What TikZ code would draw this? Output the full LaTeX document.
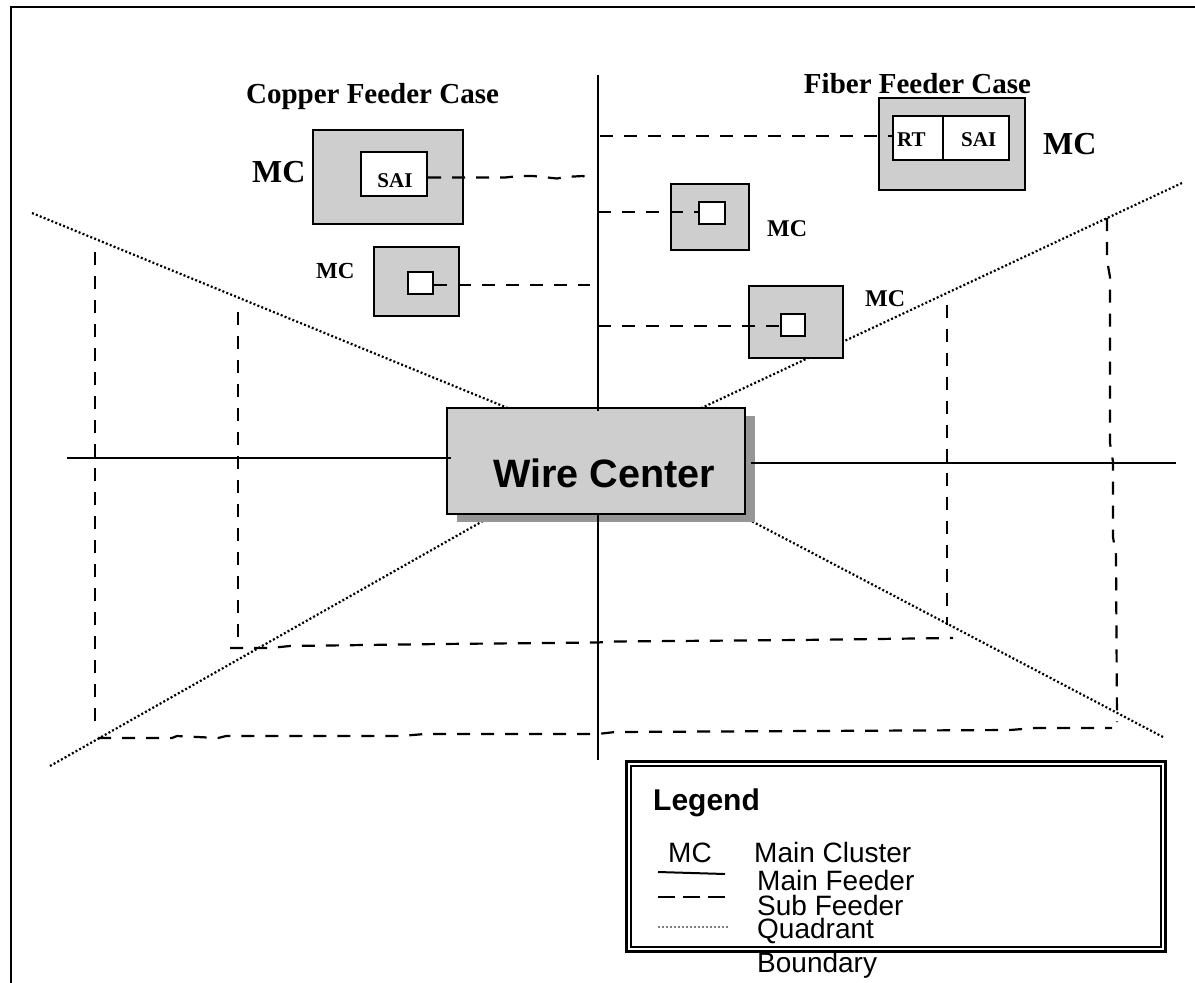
\documentclass[tikz,border=0pt]{standalone}
\usepackage{fontspec}
\setmainfont{Liberation Serif}
\setsansfont{Liberation Sans}
\usetikzlibrary{shadows}
\definecolor{mcgray}{RGB}{206,206,206}
\definecolor{shadowgray}{RGB}{150,150,150}
\begin{document}
\begin{tikzpicture}[x=1pt,y=-1pt,
  frame/.style={line width=2pt},
  mainfeed/.style={line width=2pt},
  subfeed/.style={line width=2.2pt, dash pattern=on 13pt off 11pt},
  quad/.style={line width=2.2pt, dash pattern=on 2pt off 2.2pt},
  mcbox/.style={draw, line width=2pt, fill=mcgray, inner sep=0pt},
  inbox/.style={draw, line width=2pt, fill=white, inner sep=0pt},
  seriflbl/.style={font=\fontsize{#1}{#1}\selectfont\bfseries, inner sep=0pt},
  sanslbl/.style={font=\fontsize{#1}{#1}\selectfont\sffamily, inner sep=0pt},
  sansbold/.style={font=\fontsize{#1}{#1}\selectfont\sffamily\bfseries, inner sep=0pt}]
\useasboundingbox (0,0) rectangle (1195,983);

% page frame
\draw[frame] (11,983) -- (11,7) -- (1195,7);

% quadrant boundaries (run in behind the wire center)
\coordinate (qTL) at (32,213);
\coordinate (qTR) at (1182,183);
\coordinate (qBL) at (50,766);
\coordinate (qBR) at (1163,737);
\coordinate (hTL) at (515,411);
\coordinate (hTR) at (695,411);
\coordinate (hBL) at (490,517);
\coordinate (hBR) at (740,515);
\draw[quad] (qTL) -- (hTL);
\draw[quad] (qTR) -- (hTR);
\draw[quad] (qBL) -- (hBL);
\draw[quad] (qBR) -- (hBR);

% wire center
\node[draw, line width=2.5pt, fill=mcgray, minimum width=298pt, minimum height=106pt,
      drop shadow={shadow xshift=10pt, shadow yshift=-8pt, fill=shadowgray, opacity=1}]
      (wc) at (596,461) {};
\node[sansbold=39.6, anchor=base] (wctext) at (604,487) {Wire Center};

% main feeders
\coordinate (fN) at (598,75);
\coordinate (fS) at (598,760);
\coordinate (fW) at (67,458);
\coordinate (fE) at (1176,463);
\draw[mainfeed] (fN) -- ([yshift=-4pt]wc.north -| fN);
\draw[mainfeed] (fS) -- ([yshift=2pt]wc.south -| fS);
\draw[mainfeed] (fW) -- ([xshift=5pt]wc.west |- fW);
\draw[mainfeed] (fE) -- ([xshift=5pt]wc.east |- fE);

% copper feeder case
\node[seriflbl=29, anchor=base] (cuTitle) at (372.5,103) {Copper Feeder Case};
\node[mcbox, minimum width=150pt, minimum height=94pt] (cuMC) at (388,177) {};
\node[inbox, minimum width=66pt, minimum height=44pt] (cuSAI) at (394,174) {};
\node[seriflbl=21, anchor=base] (cuSAItext) at (395,187) {SAI};
\node[seriflbl=32, anchor=base west] (cuMClbl) at (252,182) {MC};

\node[mcbox, minimum width=85pt, minimum height=69pt] (cuSm) at (416.5,281.5) {};
\node[inbox, minimum width=25pt, minimum height=22pt] (cuSmIn) at (420.5,283) {};
\node[seriflbl=23, anchor=base west] (cuSmlbl) at (316,278) {MC};

% fiber feeder case
\node[seriflbl=29, anchor=base] (fiTitle) at (917.5,93) {Fiber Feeder Case};
\node[mcbox, minimum width=146pt, minimum height=92pt] (fiMC) at (952,144) {};
\node[inbox, minimum width=50pt, minimum height=44pt] (fiRT) at (918,138) {};
\node[inbox, minimum width=66pt, minimum height=44pt] (fiSAI) at (976,138) {};
\node[seriflbl=21, anchor=base west] (fiRTtext) at (897,146) {RT};
\node[seriflbl=21, anchor=base west] (fiSAItext) at (961,146) {SAI};
\node[seriflbl=32, anchor=base west] (fiMClbl) at (1043,154) {MC};

\node[mcbox, minimum width=78pt, minimum height=66pt] (fiMid) at (710,217) {};
\node[inbox, minimum width=26pt, minimum height=22pt] (fiMidIn) at (712,213) {};
\node[seriflbl=24, anchor=base west] (fiMidlbl) at (767,236) {MC};

\node[mcbox, minimum width=94pt, minimum height=72pt] (fiLow) at (796,322) {};
\node[inbox, minimum width=24pt, minimum height=22pt] (fiLowIn) at (793,325) {};
\node[seriflbl=24, anchor=base west] (fiLowlbl) at (865,306) {MC};

% sub feeders to the clusters
\coordinate (tCuA) at (592,180);
\coordinate (tCuB) at (590,285);
\coordinate (tFiA) at (600,136);
\coordinate (tFiB) at (598,212);
\coordinate (tFiC) at (598,326);
\draw[subfeed] ([yshift=-3.5pt]cuSAI.east) -- (505,177.5) -- (520,176) -- (533,176)
   -- (557,178.5) -- (565,177) -- (583,176) -- (tCuA);
\draw[subfeed] ([yshift=-2pt]cuSmIn.east) -- (tCuB);
\draw[subfeed] (tFiA) -- (tFiA -| fiRT.west);
\draw[subfeed] (tFiB) -- (tFiB -| fiMidIn.west);
\draw[subfeed] (tFiC) -- (tFiC -| fiLowIn.west);

% sub feeder rings
\draw[subfeed] (95,252) -- (95,732);
\draw[subfeed] (238,312) -- (238,640);
\draw[subfeed] (947,305) -- (947,625);
\draw[subfeed] (1107,218) -- (1107,260) -- (1110,277) -- (1110,443) -- (1113,462)
   -- (1113,537) -- (1116,555) -- (1117,722);
\draw[subfeed] (230,648) -- (270,648) -- (290,646) -- (440,644) -- (598,642.5)
   -- (612,641.5) -- (800,640) -- (953,638);
\draw[subfeed] (98,738) -- (172,738) -- (177,736) -- (218,738) -- (226,736)
   -- (400,736) -- (425,734) -- (598,734) -- (615,732) -- (1010,730)
   -- (1035,728) -- (1112,728);

% legend
\node[draw, line width=3pt, minimum width=539pt, minimum height=190.5pt, inner sep=0pt]
   (legOuter) at (895.5,856.25) {};
\node[draw, line width=2pt, minimum width=530.5pt, minimum height=181.5pt, inner sep=0pt]
   (legInner) at (895.75,856.25) {};
\node[sansbold=30, anchor=base west] (legTitle) at (653,810) {Legend};
\node[sanslbl=28, anchor=base west] (legMC) at (668,862) {MC};
\node[sanslbl=28, anchor=base west] (legMCt) at (754,862) {Main Cluster};
\node[sanslbl=28, anchor=base west] (legMF) at (757,890) {Main Feeder};
\node[sanslbl=28, anchor=base west] (legSF) at (757,915) {Sub Feeder};
\node[sanslbl=28, anchor=base west] (legQ) at (757,938) {Quadrant};
\node[sanslbl=28, anchor=base west] (legB) at (757,972) {Boundary};
\coordinate (lsA) at (658,872);
\coordinate (lsB) at (725,874);
\coordinate (ldA) at (658,897);
\coordinate (ldB) at (727,897);
\coordinate (lqA) at (658,927);
\coordinate (lqB) at (728,927);
\draw[mainfeed] (lsA) -- (lsB);
\draw[line width=2pt, dash pattern=on 17pt off 8pt] (ldA) -- (ldB);
\draw[line width=1.6pt, gray, dash pattern=on 1.6pt off 2.4pt] (lqA) -- (lqB);
\end{tikzpicture}
\end{document}
